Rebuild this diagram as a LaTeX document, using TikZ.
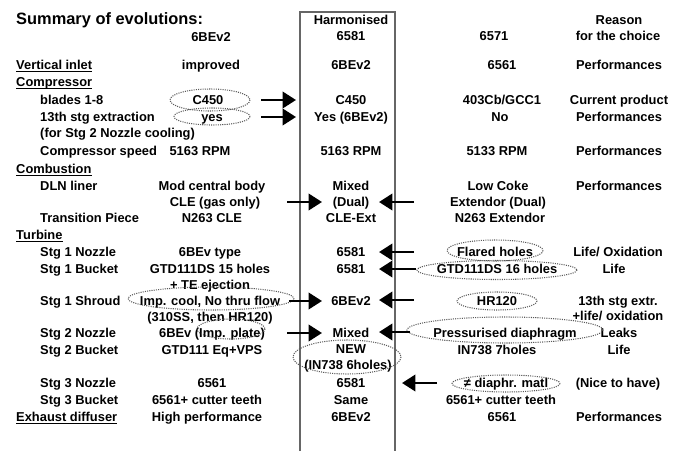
\documentclass[tikz,border=0pt]{standalone}
\usepackage{fontspec}
\setmainfont{Liberation Sans}
\usetikzlibrary{arrows.meta}

\tikzset{
	txt/.style={font=\bfseries\fontsize{11}{13}\selectfont, inner sep=0pt, text height=7.9pt, text depth=0pt},
	lbl/.style={txt, anchor=west},
	ring/.style={densely dotted, line width=0.9pt, color=black!65},
	push/.style={line width=2.4pt, -{Triangle[length=11.5pt,width=14pt]}},
	uline/.style={line width=0.9pt},
	colbox/.style={line width=2.4pt, color=black!60}
}

\begin{document}
\begin{tikzpicture}[x=0.03cm, y=-0.03cm]
			%%%%% START %%%%%
			\useasboundingbox (0,0) rectangle (681,451);
			
			\draw[colbox] (300,451) -- (300,12) -- (395,12) -- (395,451);
			
			\node[lbl, font=\bfseries\fontsize{14}{16}\selectfont, text height=10pt] (title) at (16,19) {Summary of evolutions:};
			\node[txt] (a0) at (211,37) {6BEv2};
			\node[txt] (h00) at (351,20) {Harmonised};
			\node[txt] (h0) at (351,36) {6581};
			\node[txt] (b0) at (494,36) {6571};
			\node[txt] (r00) at (619,20) {Reason};
			\node[txt] (r0) at (618,36) {for the choice};
			
			\node[lbl] (l1) at (16,65) {Vertical inlet};
			\node[txt] (a1) at (211,65) {improved};
			\node[txt] (h1) at (351,65) {6BEv2};
			\node[txt] (b1) at (502,65) {6561};
			\node[txt] (r1) at (619,65) {Performances};
			
			\node[lbl] (l2) at (16,82) {Compressor};
			
			\node[lbl] (l3) at (40,100) {blades 1-8};
			\node[txt] (a3) at (208,100) {C450};
			\node[txt] (h3) at (351,100) {C450};
			\node[txt] (b3) at (502,100) {403Cb/GCC1};
			\node[txt] (r3) at (619,100) {Current product};
			
			\node[lbl] (l4) at (40,117) {13th stg extraction};
			\node[txt] (a4) at (212,117) {yes};
			\node[txt] (h4) at (351,117) {Yes (6BEv2)};
			\node[txt] (b4) at (500,117) {No};
			\node[txt] (r4) at (619,117) {Performances};
			
			\node[lbl] (l5) at (40,133) {(for Stg 2 Nozzle cooling)};
			
			\node[lbl] (l6) at (40,151) {Compressor speed};
			\node[txt] (a6) at (200,151) {5163 RPM};
			\node[txt] (h6) at (351,151) {5163 RPM};
			\node[txt] (b6) at (497,151) {5133 RPM};
			\node[txt] (r6) at (619,151) {Performances};
			
			\node[lbl] (l7) at (16,169) {Combustion};
			
			\node[lbl] (l8) at (40,186) {DLN liner};
			\node[txt] (a8) at (212,186) {Mod central body};
			\node[txt] (h8) at (351,186) {Mixed};
			\node[txt] (b8) at (498,186) {Low Coke};
			\node[txt] (r8) at (619,186) {Performances};
			\node[txt] (a9) at (215,202) {CLE (gas only)};
			\node[txt] (h9) at (351,202) {(Dual)};
			\node[txt] (b9) at (498,202) {Extendor (Dual)};
			
			\node[lbl] (l10) at (40,218) {Transition Piece};
			\node[txt] (a10) at (212,218) {N263 CLE};
			\node[txt] (h10) at (351,218) {CLE-Ext};
			\node[txt] (b10) at (500,218) {N263 Extendor};
			
			\node[lbl] (l11) at (16,235) {Turbine};
			
			\node[lbl] (l12) at (40,252) {Stg 1 Nozzle};
			\node[txt] (a12) at (210,252) {6BEv type};
			\node[txt] (h12) at (351,252) {6581};
			\node[txt] (b12) at (495,252) {Flared holes};
			\node[txt] (r12) at (618,252) {Life/ Oxidation};
			
			\node[lbl] (l13) at (40,269) {Stg 1 Bucket};
			\node[txt] (a13) at (210,269) {GTD111DS 15 holes};
			\node[txt] (h13) at (351,269) {6581};
			\node[txt] (b13) at (497,269) {GTD111DS 16 holes};
			\node[txt] (r13) at (614,269) {Life};
			\node[txt] (a14) at (210,285) {+ TE ejection};
			
			\node[lbl] (l15) at (40,301) {Stg 1 Shroud};
			\node[txt] (a15) at (210,301) {Imp. cool, No thru flow};
			\node[txt] (h15) at (351,301) {6BEv2};
			\node[txt] (b15) at (497,301) {HR120};
			\node[txt] (r15) at (618,301) {13th stg extr.};
			\node[txt] (a16) at (210,317) {(310SS, then HR120)};
			\node[txt] (r16) at (618,316) {+life/ oxidation};
			
			\node[lbl] (l17) at (40,333) {Stg 2 Nozzle};
			\node[txt] (a17) at (212,333) {6BEv (Imp. plate)};
			\node[txt] (h17) at (351,333) {Mixed};
			\node[txt] (b17) at (505,333) {Pressurised diaphragm};
			\node[txt] (r17) at (619,333) {Leaks};
			
			\node[lbl] (l18) at (40,350) {Stg 2 Bucket};
			\node[txt] (a18) at (212,350) {GTD111 Eq+VPS};
			\node[txt] (h18) at (351,349) {NEW};
			\node[txt] (b18) at (497,350) {IN738 7holes};
			\node[txt] (r18) at (619,350) {Life};
			\node[txt] (h19) at (348,365) {(IN738 6holes)};
			
			\node[lbl] (l20) at (40,383) {Stg 3 Nozzle};
			\node[txt] (a20) at (212,383) {6561};
			\node[txt] (h20) at (351,383) {6581};
			\node[txt] (b20) at (506,383) {≠ diaphr. matl};
			\node[txt] (r20) at (618,383) {(Nice to have)};
			
			\node[lbl] (l21) at (40,400) {Stg 3 Bucket};
			\node[txt] (a21) at (207,400) {6561+ cutter teeth};
			\node[txt] (h21) at (351,400) {Same};
			\node[txt] (b21) at (501,400) {6561+ cutter teeth};
			
			\node[lbl] (l22) at (16,417) {Exhaust diffuser};
			\node[txt] (a22) at (207,417) {High performance};
			\node[txt] (h22) at (351,417) {6BEv2};
			\node[txt] (b22) at (502,417) {6561};
			\node[txt] (r22) at (619,417) {Performances};
			
			% underlined headings
			\draw[uline] ([yshift=-1.6pt]l1.south west) -- ([yshift=-1.6pt]l1.south east);
			\draw[uline] ([yshift=-1.6pt]l2.south west) -- ([yshift=-1.6pt]l2.south east);
			\draw[uline] ([yshift=-1.6pt]l7.south west) -- ([yshift=-1.6pt]l7.south east);
			\draw[uline] ([yshift=-1.6pt]l11.south west) -- ([yshift=-1.6pt]l11.south east);
			\draw[uline] ([yshift=-1.6pt]l22.south west) -- ([yshift=-1.6pt]l22.south east);
			
			% dotted rings
			\draw[ring] (210,100) ellipse (40 and 11);
			\draw[ring] (212,116.5) ellipse (38 and 8.5);
			\draw[ring] (211,298.5) ellipse (83 and 11.5);
			\draw[ring] (231,329) ellipse (34 and 10);
			\draw[ring] (347,357) ellipse (54 and 17);
			\draw[ring] (495,250.5) ellipse (48 and 10.5);
			\draw[ring] (497,270) ellipse (80 and 9.5);
			\draw[ring] (497,301) ellipse (40 and 9);
			\draw[ring] (505,330) ellipse (98 and 13);
			\draw[ring] (506,383.5) ellipse (54 and 8.5);
			
			% arrows into the harmonised column
			\coordinate (p3) at (261,100);  \coordinate (q3) at (296,100);
			\coordinate (p4) at (261,117);  \coordinate (q4) at (296,117);
			\coordinate (p9) at (287,202);  \coordinate (q9) at (322,202);
			\coordinate (p15) at (289,301); \coordinate (q15) at (322,301);
			\coordinate (p17) at (287,333); \coordinate (q17) at (322,333);
			\draw[push] (p3) -- (q3);
			\draw[push] (p4) -- (q4);
			\draw[push] (p9) -- (q9);
			\draw[push] (p15) -- (q15);
			\draw[push] (p17) -- (q17);
			
			\coordinate (s9) at (414,202);  \coordinate (t9) at (379,202);
			\coordinate (s12) at (414,252); \coordinate (t12) at (379,252);
			\coordinate (s13) at (416,269); \coordinate (t13) at (379,269);
			\coordinate (s15) at (414,300); \coordinate (t15) at (379,300);
			\coordinate (s17) at (410,332); \coordinate (t17) at (379,332);
			\coordinate (s20) at (437,383); \coordinate (t20) at (402,383);
			\draw[push] (s9) -- (t9);
			\draw[push] (s12) -- (t12);
			\draw[push] (s13) -- (t13);
			\draw[push] (s15) -- (t15);
			\draw[push] (s17) -- (t17);
			\draw[push] (s20) -- (t20);
			
			%%%%% END %%%%%
\end{tikzpicture}
\end{document}
